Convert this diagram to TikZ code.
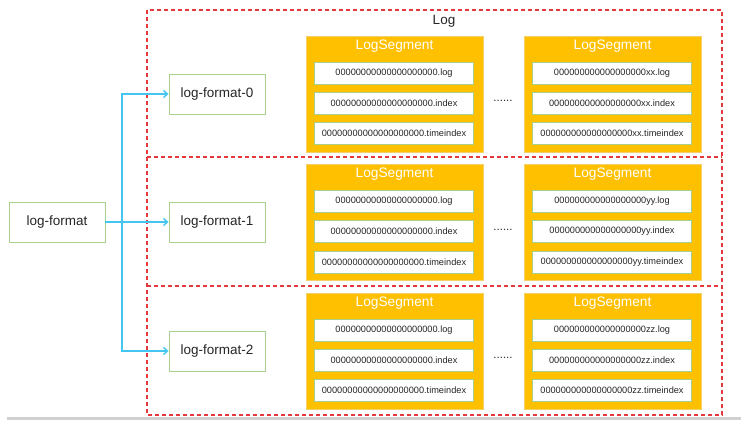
\documentclass[tikz,border=0pt]{standalone}
\usepackage{fontspec}
\setmainfont{Liberation Sans}
\usetikzlibrary{arrows.meta}
\definecolor{segorange}{HTML}{FFC000}
\definecolor{segedge}{HTML}{F5CF6A}
\definecolor{fmtgreen}{HTML}{A9D18E}
\definecolor{arrowblue}{HTML}{45C6F2}
\definecolor{logred}{HTML}{E5383D}
\definecolor{txtgray}{HTML}{262626}
\tikzset{
  fmtbox/.style={draw=fmtgreen, line width=0.9pt, fill=white, minimum width=96pt, minimum height=40pt, inner sep=0pt, font=\fontsize{13.5}{15}\selectfont, text=txtgray},
  segbox/.style={draw=segedge, line width=0.8pt, fill=segorange},
  segtitle/.style={font=\fontsize{13.7}{15}\selectfont, text=white, inner sep=0pt},
  filebox/.style={draw=fmtgreen, line width=0.5pt, fill=white, minimum width=159pt, minimum height=22pt, inner sep=0pt, font=\fontsize{9.2}{10}\selectfont, text=txtgray},
  dashline/.style={draw=logred, line width=1.1pt, dash pattern=on 4pt off 3pt},
  conn/.style={draw=arrowblue, line width=1.4pt, -{Straight Barb[length=4pt,width=7pt]}},
}
\begin{document}
\begin{tikzpicture}[x=1pt,y=-1pt]
\useasboundingbox (0,0) rectangle (741,426);
\fill[white] (0,0) rectangle (741,426);
% bottom gray screenshot line
\draw[line width=3pt, draw={rgb,255:red,208;green,208;blue,208}] (7,418) -- (741,418);
% Log outer dashed box
\draw[dashline] (147,10) rectangle (722,415);
\draw[dashline] (147,157) -- (722,157);
\draw[dashline] (147,286) -- (722,286);
\node[font=\fontsize{13.5}{15}\selectfont, text=txtgray, inner sep=0pt] (logtitle) at (444,21) {Log};
% segments
\foreach \r/\top/\suf in {0/36/xx,1/164.5/yy,2/293/zz}{
  \foreach \c/\xl/\pre in {0/306/00000000000000000000,1/524/000000000000000000\suf}{
    \draw[segbox] (\xl,\top) rectangle ++(177,116);
    \node[segtitle] (segt-\r-\c) at (\xl+88.5,\top+10) {LogSegment};
    \node[filebox] (flog-\r-\c) at (\xl+88,\top+37) {\pre.log};
    \node[filebox] (fidx-\r-\c) at (\xl+88,\top+67) {\pre.index};
    \node[filebox] (ftim-\r-\c) at (\xl+88,\top+97.5) {\pre.timeindex};
  }
  \node[font=\fontsize{11.5}{12}\selectfont, text=txtgray, anchor=base, inner sep=0pt] (dots-\r) at (503,\top+65.5) {......};
}
% format nodes
\node[fmtbox] (lf) at (57,222) {log-format};
\node[fmtbox] (lf0) at (217,94) {log-format-0};
\node[fmtbox] (lf1) at (217,222) {log-format-1};
\node[fmtbox] (lf2) at (217,351) {log-format-2};
\coordinate (j) at (122,222);
\draw[conn] (lf.east) -- (lf1.west);
\draw[conn] (j) |- (lf0.west);
\draw[conn] (j) |- (lf2.west);
\end{tikzpicture}
\end{document}
